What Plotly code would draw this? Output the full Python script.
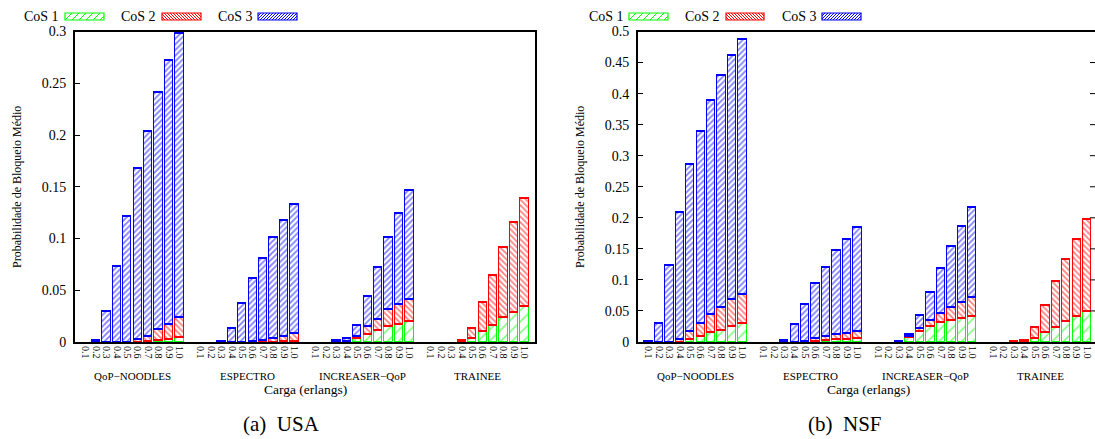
import plotly.graph_objects as go

W, H = 1095, 439

loads = ["0.1", "0.2", "0.3", "0.4", "0.5", "0.6", "0.7", "0.8", "0.9", "1.0"]
groups = ["QoP\u2212NOODLES", "ESPECTRO", "INCREASER\u2212QoP", "TRAINEE"]
cos_names = ["CoS 1", "CoS 2", "CoS 3"]

# ---- (a) USA : per group, 10 loads each ----
usa_cos1 = [0, 0, 0, 0, 0, 0, 0.0005, 0.001, 0.002, 0.004,
            0, 0, 0, 0, 0, 0, 0, 0, 0.0003, 0.0005,
            0, 0, 0, 0, 0.0035, 0.0074, 0.011, 0.0148, 0.0171, 0.0196,
            0, 0, 0, 0, 0.003, 0.01, 0.0164, 0.0234, 0.0286, 0.034]
usa_cos2 = [0, 0, 0, 0, 0, 0.002, 0.005, 0.011, 0.0145, 0.0195,
            0, 0, 0, 0, 0, 0.0005, 0.001, 0.003, 0.005, 0.0078,
            0, 0, 0, 0.0005, 0.002, 0.0074, 0.0109, 0.0168, 0.0193, 0.0219,
            0, 0, 0, 0.001, 0.0102, 0.0286, 0.0482, 0.0682, 0.0869, 0.1046]
usa_cos3 = [0, 0.001, 0.029, 0.0733, 0.1215, 0.1655, 0.198, 0.2292, 0.2552, 0.2749,
            0, 0, 0.0008, 0.0132, 0.0373, 0.0609, 0.0797, 0.098, 0.1121, 0.1245,
            0, 0, 0.001, 0.0025, 0.0109, 0.0296, 0.0501, 0.0697, 0.0877, 0.1051,
            0, 0, 0, 0, 0, 0, 0, 0, 0, 0]

# ---- (b) NSF ----
nsf_cos1 = [0, 0, 0, 0, 0.0043, 0.009, 0.015, 0.0193, 0.0247, 0.0295,
            0, 0, 0, 0, 0, 0.001, 0.0027, 0.0043, 0.0043, 0.005,
            0, 0, 0, 0.0076, 0.0172, 0.0247, 0.0317, 0.0354, 0.0381, 0.0408,
            0, 0, 0, 0, 0.0053, 0.0156, 0.023, 0.0333, 0.0408, 0.0495]
nsf_cos2 = [0, 0, 0, 0.0045, 0.0127, 0.0208, 0.0288, 0.0363, 0.0438, 0.0467,
            0, 0, 0, 0, 0.001, 0.005, 0.0059, 0.0081, 0.0097, 0.012,
            0, 0, 0, 0.0005, 0.0043, 0.0097, 0.0145, 0.0205, 0.0259, 0.0306,
            0, 0, 0.0003, 0.003, 0.0183, 0.0434, 0.0748, 0.1, 0.1247, 0.1471]
nsf_cos3 = [0.0005, 0.03, 0.1225, 0.2045, 0.2682, 0.3091, 0.3445, 0.3735, 0.3935, 0.4116,
            0, 0, 0.0027, 0.0285, 0.0597, 0.0886, 0.1118, 0.1354, 0.1515, 0.1678,
            0, 0, 0.0005, 0.0032, 0.0204, 0.0456, 0.0725, 0.0972, 0.1213, 0.1445,
            0, 0, 0, 0, 0, 0, 0, 0, 0, 0]

usa_ticks = [0, 0.05, 0.1, 0.15, 0.2, 0.25, 0.3]
usa_ticktext = ["0", "0.05", "0.1", "0.15", "0.2", "0.25", "0.3"]
nsf_ticks = [0, 0.05, 0.1, 0.15, 0.2, 0.25, 0.3, 0.35, 0.4, 0.45, 0.5]
nsf_ticktext = ["0", "0.05", "0.1", "0.15", "0.2", "0.25", "0.3", "0.35", "0.4", "0.45", "0.5"]

# ---- styling ----
FONT = "Liberation Serif"
colors = ["rgb(0,255,0)", "rgb(255,0,0)", "rgb(0,0,255)"]
pat_shape = ["/", "\\", "/"]
pat_size = [8, 4, 4]
pat_solid = [0.2, 0.45, 0.45]

# x positions: 10 bars per group, one empty slot between groups
xpos = []
for g in range(len(groups)):
    for i in range(len(loads)):
        xpos.append(g * (len(loads) + 1) + i)
ticktext_x = loads * len(groups)
group_centers = [g * (len(loads) + 1) + (len(loads) - 1) / 2 for g in range(len(groups))]


def px(x):
    return x / W


def py(y):
    return 1 - y / H


fig = go.Figure()

datasets = [
    ([usa_cos1, usa_cos2, usa_cos3], "x", "y"),
    ([nsf_cos1, nsf_cos2, nsf_cos3], "x2", "y2"),
]
for series, xa, ya in datasets:
    for k, vals in enumerate(series):
        fig.add_trace(go.Bar(
            x=xpos, y=[v if v > 0 else None for v in vals],
            xaxis=xa, yaxis=ya, width=0.8, name=cos_names[k], showlegend=False,
            marker=dict(color="white",
                        line=dict(color=colors[k], width=1.3),
                        pattern=dict(shape=pat_shape[k], size=pat_size[k],
                                     solidity=pat_solid[k], fgcolor=colors[k],
                                     bgcolor="white", fillmode="overlay")),
            hovertemplate="%{y}<extra>" + cos_names[k] + "</extra>",
        ))

y_top, y_bot = 31.5, 342
ydom = [py(y_bot), py(y_top)]

axis_common = dict(showgrid=False, zeroline=False, linecolor="black", linewidth=2,
                   showline=True, automargin=False)

fig.update_layout(
    width=W, height=H, autosize=False,
    margin=dict(l=0, r=0, t=0, b=0),
    paper_bgcolor="white", plot_bgcolor="white",
    barmode="stack", bargap=0,
    font=dict(family=FONT, color="black"),
    xaxis=dict(domain=[px(75), px(535)], range=[-1, 43], anchor="y",
               tickvals=xpos, ticktext=ticktext_x, tickangle=90, ticks="",
               tickfont=dict(size=10, family=FONT), mirror=True, **axis_common),
    yaxis=dict(domain=ydom, range=[0, 0.3], anchor="x",
               tickvals=usa_ticks, ticktext=usa_ticktext, ticks="inside", ticklen=5,
               tickwidth=1, tickcolor="black", ticklabelstandoff=4,
               tickfont=dict(size=14, family=FONT), mirror=True, **axis_common),
    xaxis2=dict(domain=[px(638), 1], range=[-1, 42.75], anchor="y2",
                tickvals=xpos, ticktext=ticktext_x, tickangle=90, ticks="",
                tickfont=dict(size=10, family=FONT), mirror=True, **axis_common),
    yaxis2=dict(domain=ydom, range=[0, 0.5], anchor="x2",
                tickvals=nsf_ticks, ticktext=nsf_ticktext, ticks="inside", ticklen=5,
                tickwidth=1, tickcolor="black", ticklabelstandoff=4,
                tickfont=dict(size=14, family=FONT), mirror=False, **axis_common),
)

shapes = []
annotations = []

# right-side mirrored ticks for the clipped NSF panel
for v in nsf_ticks[1:-1]:
    shapes.append(dict(type="line", xref="paper", yref="y2", x0=px(1090), x1=1,
                       y0=v, y1=v, line=dict(color="black", width=1)))

# group labels and x-axis titles
for xa, cx in [("x", 305), ("x2", 868)]:
    for g, name in enumerate(groups):
        annotations.append(dict(text=name, xref=xa, yref="paper", x=group_centers[g],
                                y=py(375.5), showarrow=False, xanchor="center", yanchor="middle",
                                font=dict(size=11, family=FONT)))
    annotations.append(dict(text="Carga (erlangs)", xref="paper", yref="paper", x=px(cx),
                            y=py(389), showarrow=False, xanchor="center", yanchor="middle",
                            font=dict(size=13.5, family=FONT)))
for cx, cap in [(281, "(a)\u00a0 USA"), (845, "(b)\u00a0 NSF")]:
    annotations.append(dict(text=cap, xref="paper", yref="paper", x=px(cx), y=py(424),
                            showarrow=False, xanchor="center", yanchor="middle",
                            font=dict(size=21, family=FONT)))
for cx in [17, 580]:
    annotations.append(dict(text="Probabilidade de Bloqueio Médio", xref="paper", yref="paper",
                            x=px(cx), y=py(187), textangle=-90, showarrow=False,
                            xanchor="center", yanchor="middle",
                            font=dict(size=12, family=FONT)))


def hatch_path(x0, y0, x1, y1, step, direction):
    h = y1 - y0
    parts = []
    t = x0 - h
    while t < x1:
        s0 = max(0.0, (x0 - t) / h)
        s1 = min(1.0, (x1 - t) / h)
        if s1 > s0:
            if direction == "/":
                a = (t + s0 * h, y1 - s0 * h)
                b = (t + s1 * h, y1 - s1 * h)
            else:
                a = (t + s0 * h, y0 + s0 * h)
                b = (t + s1 * h, y0 + s1 * h)
            parts.append("M %.5f %.5f L %.5f %.5f" % (px(a[0]), py(a[1]), px(b[0]), py(b[1])))
        t += step
    return " ".join(parts)


# custom legend (text + hatched sample boxes)
legend_items = [
    [(22, 65, 104), (119, 162, 201), (216, 258, 297)],
    [(587, 629, 668), (683, 726, 764), (780, 822, 861)],
]
hatch_step = [7, 3, 3]
for panel in legend_items:
    for k, (tx, bx0, bx1) in enumerate(panel):
        annotations.append(dict(text=cos_names[k], xref="paper", yref="paper", x=px(tx),
                                y=py(16.5), showarrow=False, xanchor="left", yanchor="middle",
                                font=dict(size=14, family=FONT)))
        by0, by1 = 13, 20
        shapes.append(dict(type="path", xref="paper", yref="paper",
                           path=hatch_path(bx0, by0, bx1, by1, hatch_step[k], pat_shape[k]),
                           line=dict(color=colors[k], width=1)))
        shapes.append(dict(type="rect", xref="paper", yref="paper",
                           x0=px(bx0), x1=px(bx1), y0=py(by1), y1=py(by0),
                           line=dict(color=colors[k], width=1.2), fillcolor="rgba(0,0,0,0)"))

fig.update_layout(shapes=shapes, annotations=annotations)

fig.write_html("out.html", config={"displayModeBar": False},
               post_script="document.body.style.margin='0';document.body.style.overflow='hidden';")
